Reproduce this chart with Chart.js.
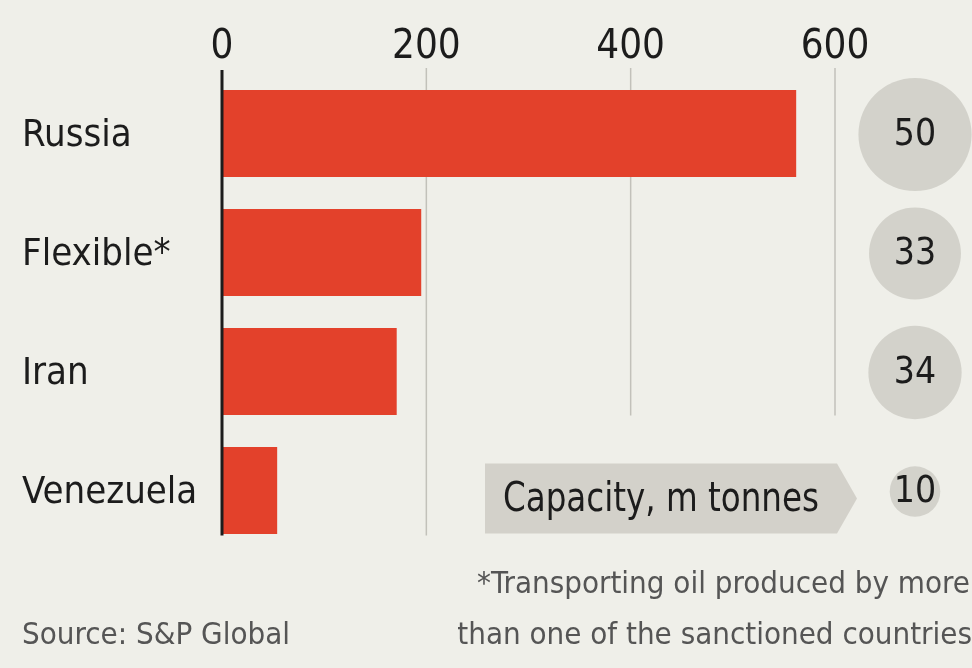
<!DOCTYPE html>
<html>
<head>
<meta charset="utf-8">
<script src="https://cdn.jsdelivr.net/npm/chart.js@4"></script>
<style>
  html, body { margin: 0; padding: 0; background: #efefe9; }
</style>
</head>
<body>
<canvas id="myChart" width="972" height="668"></canvas>
<script>
var countries = ["Russia", "Flexible*", "Iran", "Venezuela"];
var fleet = [562, 195, 171, 54];
var capacity = [50, 33, 34, 10];
var xTicks = [0, 200, 400, 600];

var FONT = "'Liberation Sans Narrow', 'DejaVu Sans Condensed', sans-serif";
var INK = '#1c1c1c';

// gridlines, zero line, capacity bubbles and footnotes
var extras = {
  id: 'extras',
  beforeDatasetsDraw: function(chart) {
    var ctx = chart.ctx, x = chart.scales.x, y = chart.scales.y;
    var top = chart.chartArea.top - 6;
    var lastY = y.getPixelForValue(countries.length - 1);
    ctx.save();
    ctx.strokeStyle = '#c2c1ba';
    ctx.lineWidth = 1.5;
    xTicks.forEach(function(v) {
      if (v === 0) return;
      var px = x.getPixelForValue(v);
      var bottom = v >= 400 ? lastY - 75 : lastY + 45;
      ctx.beginPath();
      ctx.moveTo(px, top);
      ctx.lineTo(px, bottom);
      ctx.stroke();
    });
    ctx.restore();
  },
  afterDatasetsDraw: function(chart) {
    var ctx = chart.ctx, x = chart.scales.x, y = chart.scales.y;
    var lastY = y.getPixelForValue(countries.length - 1);
    ctx.save();
    // zero line over the bars
    var x0 = x.getPixelForValue(0);
    ctx.strokeStyle = INK;
    ctx.lineWidth = 3;
    ctx.beginPath();
    ctx.moveTo(x0, chart.chartArea.top - 4);
    ctx.lineTo(x0, lastY + 45);
    ctx.stroke();

    // capacity bubbles, area proportional to value
    var cx = 915;
    capacity.forEach(function(c, i) {
      var cy = y.getPixelForValue(i) + 1;
      var r = 8 * Math.sqrt(c);
      ctx.fillStyle = '#d3d2cb';
      ctx.beginPath();
      ctx.arc(cx, cy, r, 0, Math.PI * 2);
      ctx.fill();
      ctx.fillStyle = INK;
      ctx.font = '37px ' + FONT;
      ctx.textAlign = 'center';
      ctx.textBaseline = 'middle';
      ctx.fillText(String(c), cx, cy + 1, 2 * r - 4);
    });

    // "Capacity" tag pointing at the bubbles
    var bx0 = 485, bx1 = x.right + 2, by = lastY + 8, bh = 35;
    ctx.fillStyle = '#d3d1ca';
    ctx.beginPath();
    ctx.moveTo(bx0, by - bh);
    ctx.lineTo(bx1, by - bh);
    ctx.lineTo(bx1 + 20, by);
    ctx.lineTo(bx1, by + bh);
    ctx.lineTo(bx0, by + bh);
    ctx.closePath();
    ctx.fill();
    ctx.fillStyle = INK;
    ctx.font = '40px ' + FONT;
    ctx.textAlign = 'center';
    ctx.textBaseline = 'middle';
    ctx.fillText('Capacity, m tonnes', (bx0 + bx1) / 2, by + 2, 316);

    // footnotes
    ctx.fillStyle = '#555555';
    ctx.font = '31px ' + FONT;
    ctx.textBaseline = 'middle';
    ctx.textAlign = 'left';
    ctx.fillText('Source: S&P Global', 22, 636, 283);
    ctx.textAlign = 'right';
    ctx.fillText('*Transporting oil produced by more', 970, 585, 504);
    ctx.fillText('than one of the sanctioned countries', 972, 636, 522);
    ctx.restore();
  }
};

var ctx = document.getElementById("myChart");
var myChart = new Chart(ctx, {
  type: 'bar',
  data: {
    labels: countries,
    datasets: [{
      data: fleet,
      backgroundColor: '#e3412b',
      borderWidth: 0,
      barPercentage: 0.73,
      categoryPercentage: 1.0
    }]
  },
  options: {
    indexAxis: 'y',
    responsive: false,
    animation: false,
    layout: {
      padding: { left: 22, right: 137, top: 0, bottom: 118 }
    },
    plugins: {
      legend: { display: false },
      tooltip: { enabled: false }
    },
    scales: {
      x: {
        position: 'top',
        min: 0,
        max: 600,
        afterBuildTicks: function(scale) {
          scale.ticks = xTicks.map(function(v) { return { value: v }; });
        },
        afterFit: function(scale) { scale.height = 74; },
        grid: { display: false, drawTicks: false },
        border: { display: false },
        ticks: {
          color: INK,
          padding: 2,
          font: { family: FONT, size: 40 }
        }
      },
      y: {
        afterFit: function(scale) { scale.width = 200; },
        grid: { display: false, drawTicks: false },
        border: { display: false },
        ticks: {
          crossAlign: 'far',
          color: INK,
          padding: 0,
          labelOffset: 3,
          font: { family: FONT, size: 38 }
        }
      }
    }
  },
  plugins: [extras]
});
</script>
</body>
</html>
